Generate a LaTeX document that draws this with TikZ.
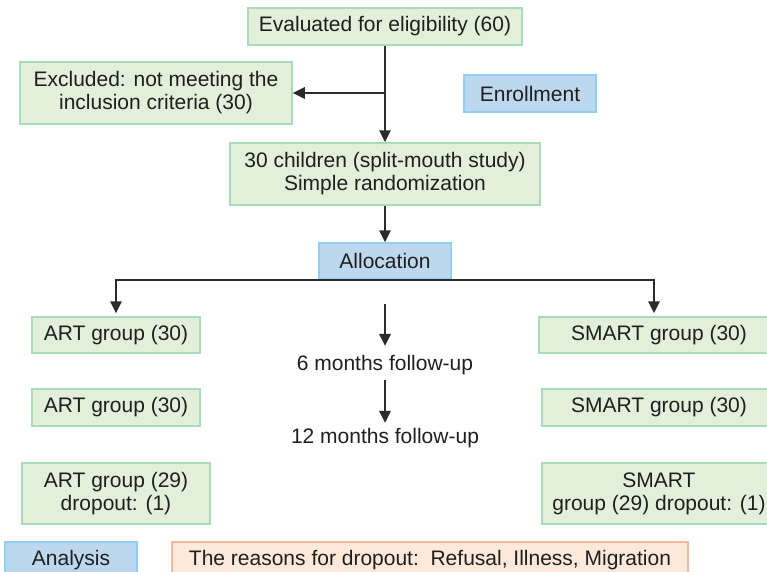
\documentclass[tikz,border=0pt]{standalone}
\usepackage{fontspec}
\setmainfont{Liberation Sans}
\usetikzlibrary{arrows.meta,positioning}

\definecolor{boxgreen}{HTML}{E2EFDA}
\definecolor{linegreen}{HTML}{A9DBB8}
\definecolor{boxblue}{HTML}{BDD7EE}
\definecolor{lineblue}{HTML}{8FD0F2}
\definecolor{boxorange}{HTML}{FCE9DA}
\definecolor{lineorange}{HTML}{F4B8A2}
\definecolor{arrowgray}{HTML}{2B2B2B}

\begin{document}
\begin{tikzpicture}[x=1pt,y=-1pt,>={Triangle[length=12pt,width=11.5pt]},
  every node/.style={font=\fontsize{21}{23}\selectfont,text=black!88},
  greenbox/.style={draw=linegreen,fill=boxgreen,line width=1.5pt,inner sep=0pt,align=center},
  bluebox/.style={draw=lineblue,fill=boxblue,line width=1.5pt,inner sep=0pt,minimum width=132pt,minimum height=37pt},
  notebox/.style={draw=lineorange,fill=boxorange,line width=1.5pt,inner sep=0pt,minimum width=516pt,minimum height=37pt},
  steplabel/.style={inner sep=0pt,anchor=base,text height=15pt,text depth=5pt},
  link/.style={->,line width=1.7pt,draw=arrowgray}]

\useasboundingbox (0,0) rectangle (767,571);

% enrollment
\node[greenbox,minimum width=274pt,minimum height=37pt] (ev) at (385,26.5) {Evaluated for eligibility (60)};
\node[greenbox,minimum width=272pt,minimum height=62pt] (excl) at (156,93) {Excluded: not meeting the\\inclusion criteria (30)};
\node[bluebox] (enroll) at (530,93.5) {Enrollment};
\node[greenbox,minimum width=310pt,minimum height=62pt] (kids) at (385,174) {30 children (split-mouth study)\\Simple randomization};

% allocation
\node[bluebox,minimum height=36pt] (alloc) at (385,261) {Allocation};
\node[greenbox,minimum width=168pt,minimum height=36pt] (art1) at (116,335) {ART group (30)};
\node[greenbox,minimum width=240pt,minimum height=36pt] (smart1) at (659,335) {SMART group (30)};

% follow-up
\node[steplabel] (fu6) at (385,370) {6 months follow-up};
\node[steplabel] (fu12) at (385,443) {12 months follow-up};
\coordinate (top6) at (385,304);
\node[greenbox,minimum width=168pt,minimum height=37pt] (art2) at (116,407.5) {ART group (30)};
\node[greenbox,minimum width=234pt,minimum height=37pt] (smart2) at (659,407.5) {SMART group (30)};

% analysis
\node[greenbox,minimum width=188pt,minimum height=61pt] (art3) at (116,493.5) {ART group (29)\\dropout: (1)};
\node[greenbox,minimum width=234pt,minimum height=61pt] (smart3) at (659,493.5) {SMART\\group (29) dropout: (1)};
\node[bluebox] (analysis) at (71,560.5) {Analysis};
\node[notebox] (reasons) at (430,560.5) {The reasons for dropout:\ \ Refusal, Illness, Migration};

\draw[link] (ev) -- (kids);
\draw[link] (ev.south |- excl.east) -- (excl);
\draw[link] (kids) -- (alloc);
\draw[link,shorten >=3pt] (alloc.south) -| (art1.north);
\draw[link,shorten >=3pt] (alloc.south) -| ([xshift=-5pt]smart1.north);
\draw[link,shorten >=9pt] (top6) -- (fu6.north);
\draw[link,shorten <=5pt,shorten >=5pt] (fu6.south) -- (fu12.north);
\end{tikzpicture}
\end{document}
